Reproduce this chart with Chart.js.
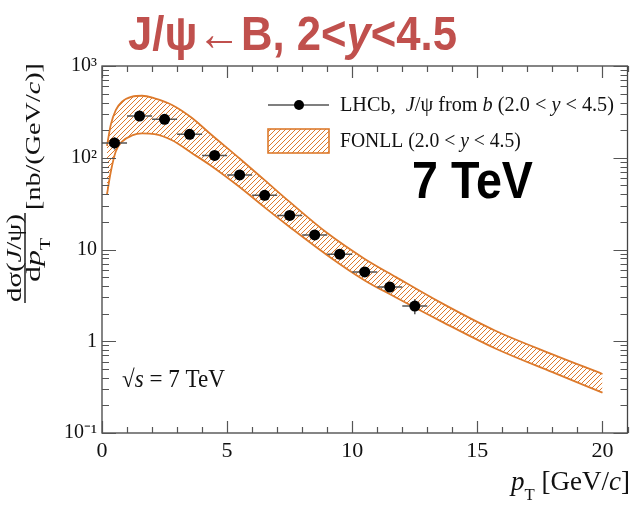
<!DOCTYPE html>
<html><head><meta charset="utf-8">
<script src="https://cdn.jsdelivr.net/npm/chart.js@4"></script>
<style>html,body{margin:0;padding:0;background:#fff;overflow:hidden}</style>
</head><body>
<canvas id="c" width="633" height="505"></canvas>
<script>
// ---------- data ----------
const binCenters   = [0.5,1.5,2.5,3.5,4.5,5.5,6.5,7.5,8.5,9.5,10.5,11.5,12.5];
const binHalfWidth = [0.5,0.5,0.5,0.5,0.5,0.5,0.5,0.5,0.5,0.5,0.5,0.5,0.5];
const lhcbValues   = [145,285,262,180,106,65,39,23.5,14.4,8.9,5.7,3.9,2.42];
const lhcbErrors   = [22,30,25,16,9,5,3,2,1.2,0.8,0.5,0.4,0.45];
const fonllPt      = [0.2,0.35,0.55,0.8,1.2,1.6,2.1,2.8,3.6,4.3,5.5,6.5,7.5,9,10.5,11.75,13.5,15.7,18,20];
const fonllUpper   = [135,228,331,408,463,474,444,376,271,185,98,57,33,15.1,7.9,5.0,2.67,1.31,0.72,0.44];
const fonllLower   = [40,70,117,150,175,184,181,155,112,84,48,28.8,17.6,8.67,4.6,3.0,1.68,0.84,0.46,0.275];
const xTickValues  = [0,5,10,15,20];
const xTickLabels  = ['0','5','10','15','20'];
const yTickValues  = [0.1,1,10,100,1000];
const yTickLabels  = ['10\u207B\u00B9','1','10','10\u00B2','10\u00B3'];

const ORANGE = '#dd7a2c';
const SERIF = '"Liberation Serif","Times New Roman",serif';
const SANS  = '"Liberation Sans",Arial,sans-serif';

function makeHatch(){
  const n = 5, c = document.createElement('canvas');
  c.width = n; c.height = n;
  const g = c.getContext('2d');
  g.strokeStyle = ORANGE; g.lineWidth = 1;
  g.beginPath();
  g.moveTo(-1, n+1); g.lineTo(n+1, -1);
  g.moveTo(-1, 1); g.lineTo(1, -1);
  g.moveTo(n-1, n+1); g.lineTo(n+1, n-1);
  g.stroke();
  return g.createPattern(c, 'repeat');
}
const canvas = document.getElementById('c');
const hatch = makeHatch();

function fontOf(s, size){
  return (s.i?'italic ':'') + (s.b?'bold ':'') + (size*(s.sc||1)).toFixed(2) + 'px ' + (s.f||SERIF);
}
function measure(ctx, segs, size){
  let w = 0;
  segs.forEach(s => { ctx.font = fontOf(s,size); w += ctx.measureText(s.t).width; });
  return w;
}
function fitSize(ctx, segs, width){ return 100*width/measure(ctx, segs, 100); }
function drawRich(ctx, segs, x, y, size, align){
  const total = measure(ctx, segs, size);
  let cx = align==='right' ? x-total : align==='center' ? x-total/2 : x;
  ctx.textBaseline = 'alphabetic'; ctx.textAlign = 'left';
  segs.forEach(s => {
    ctx.font = fontOf(s,size);
    ctx.fillText(s.t, cx, y + (s.dy||0)*size);
    cx += ctx.measureText(s.t).width;
  });
  return total;
}
// text at a font size, scaled along its direction to a target width (sx) and optionally across it (sy)
function drawBox(ctx, segs, x, y, size, width, align, sy){
  const w = measure(ctx, segs, size);
  ctx.save();
  ctx.translate(x, y);
  ctx.scale(width ? width/w : 1, sy || 1);
  drawRich(ctx, segs, 0, 0, size, align);
  ctx.restore();
}

const decorPlugin = {
  id: 'decor',
  beforeDatasetDraw(chart, args){
    if (args.index !== 0) return;
    const ctx = chart.ctx, xs = chart.scales.x, ys = chart.scales.y;
    ctx.save();
    ctx.strokeStyle = '#555'; ctx.lineWidth = 1.5;
    binCenters.forEach((x,i) => {
      const py = ys.getPixelForValue(lhcbValues[i]);
      ctx.beginPath();
      ctx.moveTo(xs.getPixelForValue(x-binHalfWidth[i]), py);
      ctx.lineTo(xs.getPixelForValue(x+binHalfWidth[i]), py);
      const px = xs.getPixelForValue(x);
      ctx.moveTo(px, ys.getPixelForValue(lhcbValues[i]+lhcbErrors[i]));
      ctx.lineTo(px, ys.getPixelForValue(lhcbValues[i]-lhcbErrors[i]));
      ctx.stroke();
    });
    ctx.restore();
  },
  afterDraw(chart){
    const ctx = chart.ctx, a = chart.chartArea, xs = chart.scales.x, ys = chart.scales.y;
    ctx.save();
    // frame
    ctx.strokeStyle = '#444'; ctx.lineWidth = 1.3;
    ctx.strokeRect(a.left, a.top, a.right-a.left, a.bottom-a.top);
    // ticks (inward, on all four sides)
    ctx.strokeStyle = '#555'; ctx.lineWidth = 1.2;
    ctx.beginPath();
    for (let v = 0; v <= xs.max; v++){
      const px = Math.round(xs.getPixelForValue(v))+0.5;
      const L = v%5===0 ? 12 : 6;
      ctx.moveTo(px, a.bottom); ctx.lineTo(px, a.bottom-L);
      ctx.moveTo(px, a.top); ctx.lineTo(px, a.top+L);
    }
    for (let d = -1; d <= 2; d++){
      for (let m = 1; m <= 10; m++){
        const v = m*Math.pow(10,d);
        if (v > ys.max*1.0001) continue;
        const py = Math.round(ys.getPixelForValue(v))+0.5;
        const L = (m===1||m===10) ? 14 : 7;
        ctx.moveTo(a.left, py); ctx.lineTo(a.left+L, py);
        ctx.moveTo(a.right, py); ctx.lineTo(a.right-L, py);
      }
    }
    ctx.stroke();

    ctx.fillStyle = '#111';
    // x-axis title
    const xt = [{t:'p',i:1},{t:'T',sc:0.62,dy:0.38},{t:' [GeV/'},{t:'c',i:1},{t:']'}];
    drawRich(ctx, xt, 630, 490, 27, 'right');

    // y-axis title (rotated)
    ctx.save();
    ctx.translate(25, 258);
    ctx.rotate(-Math.PI/2);
    const fs = 22;
    const num = [{t:'d\u03C3('},{t:'J',i:1},{t:'/\u03C8)'}];
    const den = [{t:'d'},{t:'p',i:1},{t:'T',sc:0.62,dy:0.45}];
    drawBox(ctx, num, 0, -4, fs, 88, 'center');
    drawBox(ctx, den, -2, 15, fs, 44, 'center');
    ctx.fillRect(-45, -0.7, 90, 1.4);
    drawBox(ctx, [{t:'[nb/(GeV/'},{t:'c',i:1},{t:')]'}], 48, 15, fs, 147, 'left');
    ctx.restore();

    // legend
    ctx.strokeStyle = '#555'; ctx.lineWidth = 1.5;
    ctx.beginPath(); ctx.moveTo(268, 105); ctx.lineTo(329, 105); ctx.stroke();
    ctx.fillStyle = '#000';
    ctx.beginPath(); ctx.arc(299, 105, 5, 0, Math.PI*2); ctx.fill();
    ctx.fillStyle = hatch; ctx.fillRect(268, 129, 61, 24);
    ctx.strokeStyle = ORANGE; ctx.lineWidth = 1.6; ctx.strokeRect(268, 129, 61, 24);
    ctx.fillStyle = '#111';
    const l1 = [{t:'LHCb,  '},{t:'J',i:1},{t:'/\u03C8 from '},{t:'b',i:1},{t:' (2.0 < '},{t:'y',i:1},{t:' < 4.5)'}];
    drawBox(ctx, l1, 340, 111, fitSize(ctx, l1, 274), 0, 'left', 1.08);
    const l2 = [{t:'FONLL (2.0 < '},{t:'y',i:1},{t:' < 4.5)'}];
    drawBox(ctx, l2, 340, 147, fitSize(ctx, l2, 181), 0, 'left', 1.05);

    // sqrt(s)
    const sq = [{t:'\u221A'},{t:'s',i:1},{t:' = 7 TeV'}];
    drawBox(ctx, sq, 122, 387, fitSize(ctx, sq, 103), 0, 'left', 1.05);

    // 7 TeV
    ctx.fillStyle = '#000';
    const tv = [{t:'7 TeV',b:1,f:SANS}];
    drawBox(ctx, tv, 412, 198, fitSize(ctx, tv, 121), 0, 'left', 1.1);

    // title
    ctx.fillStyle = '#c0504d';
    const ti = [{t:'J/\u03C8\u2190B, 2<',b:1,f:SANS},{t:'y',b:1,i:1,f:SANS},{t:'<4.5',b:1,f:SANS}];
    drawBox(ctx, ti, 128, 50, fitSize(ctx, ti, 329), 0, 'left', 1.12);
    ctx.restore();
  }
};

new Chart(canvas, {
  type: 'line',
  data: { datasets: [
    { label: 'LHCb, J/\u03C8 from b (2.0 < y < 4.5)',
      data: binCenters.map((x,i)=>({x, y: lhcbValues[i]})),
      showLine: false, pointRadius: 5.5, pointBackgroundColor: '#000', pointBorderColor: '#000',
      pointBorderWidth: 0, order: 0 },
    { label: 'FONLL (2.0 < y < 4.5)',
      data: fonllPt.map((x,i)=>({x, y: fonllUpper[i]})),
      borderColor: ORANGE, borderWidth: 1.8, pointRadius: 0, fill: '+1', backgroundColor: hatch,
      cubicInterpolationMode: 'monotone', order: 1 },
    { label: 'FONLL lower',
      data: fonllPt.map((x,i)=>({x, y: fonllLower[i]})),
      borderColor: ORANGE, borderWidth: 1.8, pointRadius: 0, fill: false,
      cubicInterpolationMode: 'monotone', order: 2 }
  ]},
  options: {
    responsive: false, animation: false, devicePixelRatio: 1,
    layout: { padding: { top: 66, right: 1, left: 0, bottom: 0 } },
    plugins: { legend: { display: false }, tooltip: { enabled: false } },
    scales: {
      x: { type: 'linear', min: 0, max: 21,
        grid: { display: false, drawTicks: false }, border: { display: false },
        afterBuildTicks: s => { s.ticks = xTickValues.map(v => ({value: v})); },
        afterFit: s => { s.height = 72; },
        ticks: { autoSkip: false, maxRotation: 0, padding: 5, color: '#111',
          font: { family: SERIF, size: 22 },
          callback: v => xTickLabels[xTickValues.indexOf(v)] } },
      y: { type: 'logarithmic', min: 0.1, max: 1000,
        grid: { display: false, drawTicks: false }, border: { display: false },
        afterBuildTicks: s => { s.ticks = yTickValues.map(v => ({value: v})); },
        afterFit: s => { s.width = 102; },
        ticks: { autoSkip: false, padding: 5, color: '#111',
          font: { family: SERIF, size: 20 },
          callback: v => yTickLabels[yTickValues.indexOf(v)] } }
    }
  },
  plugins: [decorPlugin]
});
</script>
</body></html>
